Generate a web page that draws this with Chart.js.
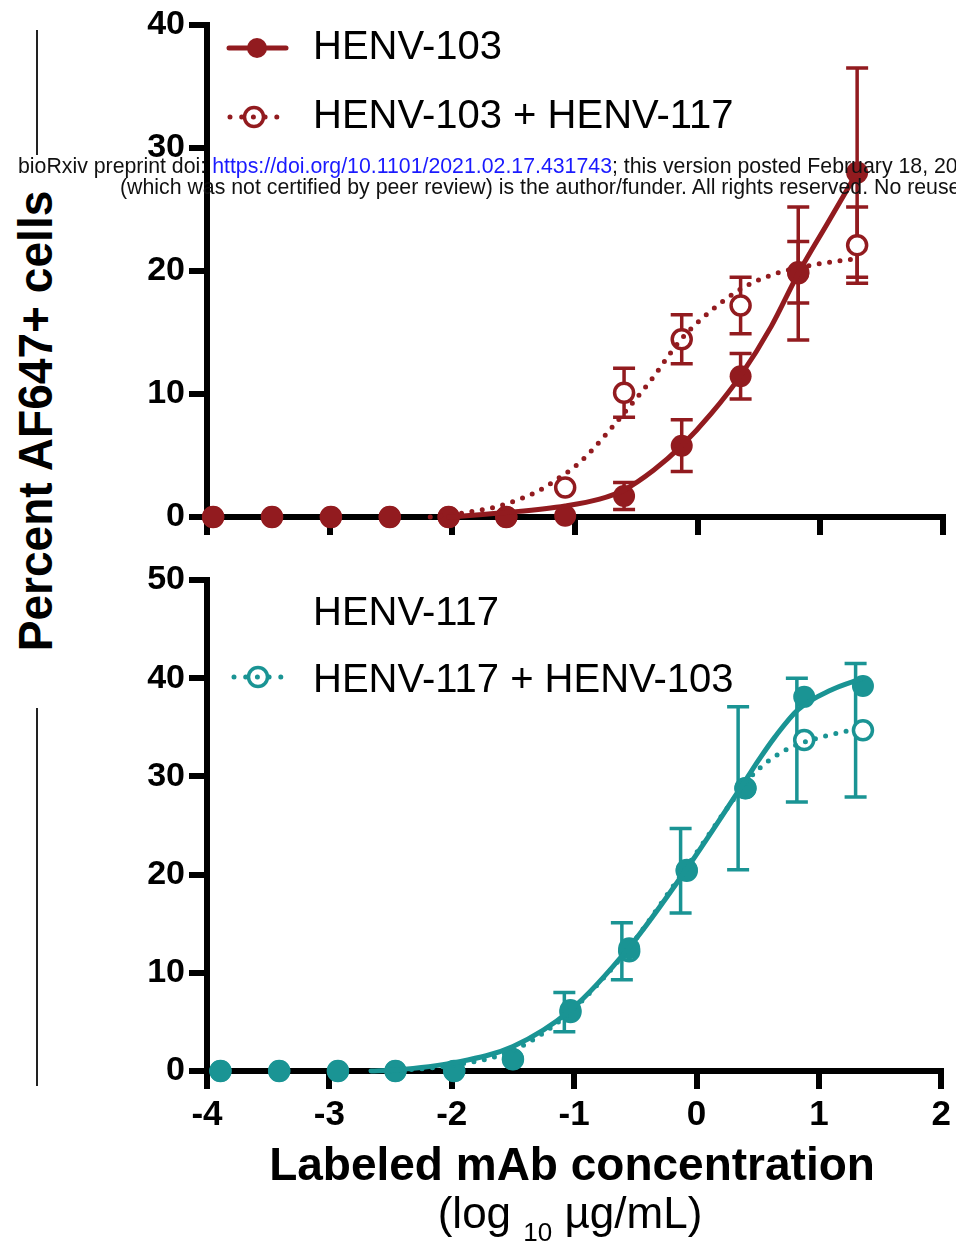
<!DOCTYPE html>
<html>
<head>
<meta charset="utf-8">
<script src="https://cdn.jsdelivr.net/npm/chart.js"></script>
<style>
  html, body { margin: 0; padding: 0; background: #fff; }
  body { width: 956px; height: 1241px; position: relative; overflow: hidden; font-family: "Liberation Sans", Arial, sans-serif; }
  .box { position: absolute; left: 0; width: 956px; }
  #topBox { top: 0; height: 560px; }
  #botBox { top: 545px; height: 590px; }
  .vline { position: absolute; left: 36px; width: 2px; background: #222; }
  #ytitle { position: absolute; left: 36px; top: 421px; white-space: nowrap; font-weight: bold; font-size: 48px; line-height: 48px;
            transform: translate(-50%, -50%) rotate(-90deg) scaleX(0.96); }
  #xtitle { position: absolute; left: 0; width: 1144px; top: 1141px; text-align: center; font-weight: bold; font-size: 46px; line-height: 46px; white-space: nowrap; }
  #xunit { position: absolute; left: 0; width: 1140px; top: 1191px; text-align: center; font-size: 44px; line-height: 44px; white-space: nowrap; }
  #xunit sub { font-size: 26px; vertical-align: baseline; position: relative; top: 13px; }
  .mark { position: absolute; white-space: nowrap; font-size: 21.3px; line-height: 21px; color: #111; z-index: 5; }
  .mark span { color: #1a1aff; }
</style>
</head>
<body>
<div class="vline" style="top:30px;height:125px"></div>
<div class="vline" style="top:708px;height:378px"></div>
<div id="ytitle">Percent AF647+ cells</div>
<div class="box" id="topBox"><canvas id="chartTop" width="956" height="560"></canvas></div>
<div class="box" id="botBox"><canvas id="chartBot" width="956" height="590"></canvas></div>
<div id="xtitle">Labeled mAb concentration</div>
<div id="xunit">(log <sub>10</sub>&nbsp;µg/mL)</div>
<div class="mark" style="left:18px;top:156px">bioRxiv preprint doi: <span>https://doi.org/10.1101/2021.02.17.431743</span>; this version posted February 18, 2021. The copyright holder for this preprint</div>
<div class="mark" style="left:120px;top:177px">(which was not certified by peer review) is the author/funder. All rights reserved. No reuse allowed without permission.</div>

<script>
// axis ticks
const xTicks = [-4, -3, -2, -1, 0, 1, 2];
const topYTicks = [0, 10, 20, 30, 40];
const botYTicks = [0, 10, 20, 30, 40, 50];

// top panel: HENV-103 alone and with HENV-117
const doseTop = [-3.95, -3.47, -2.99, -2.51, -2.03, -1.56, -1.08, -0.60, -0.13, 0.35, 0.82, 1.30];
const henv103 = [0, 0, 0, 0, 0, 0, 0.1, 1.7, 5.8, 11.45, 19.8, 28.0];
const henv103Err = [0, 0, 0, 0, 0, 0, 0, 1.1, 2.1, 1.85, 5.4, 8.5];
const henv103p117 = [0, 0, 0, 0, 0, 0, 2.4, 10.1, 14.45, 17.2, 19.9, 22.1];
const henv103p117Err = [0, 0, 0, 0, 0, 0, 0, 2.0, 2.0, 2.3, 2.5, 3.1];

// fitted curves
const fit103X = [-2.03, -1.52, -1.08, -0.80, -0.60, -0.36, -0.13, 0.11, 0.35, 0.60, 0.82, 1.06, 1.30];
const fit103Y = [0, 0.4, 0.9, 1.45, 2.2, 3.8, 5.8, 8.4, 11.5, 15.5, 19.8, 23.9, 28.0];
const fit103p117X = [-2.18, -1.90, -1.64, -1.47, -1.30, -1.15, -1.00, -0.86, -0.74, -0.57, -0.39, -0.13, 0.10, 0.38, 0.64, 1.00, 1.30];
const fit103p117Y = [0, 0.35, 0.84, 1.38, 2.1, 3.05, 4.1, 5.45, 6.8, 8.8, 11.0, 14.5, 16.7, 18.7, 19.8, 20.6, 21.0];

// bottom panel: HENV-117 alone and with HENV-103
const doseBot = [-3.89, -3.41, -2.93, -2.46, -1.98, -1.50, -1.03, -0.55, -0.08, 0.40, 0.88, 1.36];
const henv117 = [0, 0, 0, 0, 0, 1.2, 6.2, 12.5, 20.5, 28.8, 38.1, 39.2];
const henv117p103 = [0, 0, 0, 0, 0, 1.2, 6.0, 12.2, 20.4, 28.8, 33.7, 34.7];
const henv117p103Err = [0, 0, 0, 0, 0, 0, 2.0, 2.9, 4.3, 8.3, 6.3, 6.8];
const henv117p103ErrDose = [-3.95, -3.47, -2.99, -2.51, -2.03, -1.56, -1.08, -0.61, -0.13, 0.34, 0.82, 1.30];

const fit117X = [-2.66, -2.46, -1.98, -1.50, -1.03, -0.55, -0.08, 0.40, 0.51, 0.64, 0.83, 1.10, 1.36];
const fit117Y = [0, 0.1, 0.85, 2.5, 6.2, 12.6, 20.6, 29.6, 31.7, 34.0, 36.8, 38.8, 40.0];
const fit117p103X = [-2.50, -1.98, -1.50, -1.08, -0.60, -0.13, 0.34, 0.47, 0.70, 0.86, 1.05, 1.30];
const fit117p103Y = [0, 0.6, 2.1, 5.5, 11.8, 19.9, 28.3, 30.3, 32.5, 33.4, 34.1, 34.8];

const RED = "#921b1f";
const TEAL = "#1a9494";
const FONT = '"Liberation Sans", Arial, sans-serif';

const pts = (xs, ys) => xs.map((x, i) => ({ x: x, y: ys[i] }));

// error bars drawn under the markers
const errorBars = {
  id: "errorBars",
  beforeDatasetsDraw(chart) {
    const ctx = chart.ctx;
    const xs = chart.scales.x, ys = chart.scales.y;
    chart.data.datasets.forEach(ds => {
      if (!ds.errors) return;
      ctx.save();
      ctx.strokeStyle = ds.borderColor;
      ctx.lineWidth = 3.5;
      ds.data.forEach((p, i) => {
        const e = ds.errors[i];
        if (!e) return;
        const px = xs.getPixelForValue(ds.errX ? ds.errX[i] : p.x);
        const top = ys.getPixelForValue(p.y + e);
        const bot = ys.getPixelForValue(p.y - e);
        ctx.beginPath();
        ctx.moveTo(px, top); ctx.lineTo(px, bot);
        ctx.moveTo(px - 11, top); ctx.lineTo(px + 11, top);
        ctx.moveTo(px - 11, bot); ctx.lineTo(px + 11, bot);
        ctx.stroke();
      });
      ctx.restore();
    });
  }
};

// legend drawn inside the plot, like the original
const legendKey = {
  id: "legendKey",
  afterDraw(chart, args, opts) {
    const ctx = chart.ctx;
    ctx.save();
    opts.items.forEach(it => {
      if (it.symbol === "solid") {
        ctx.strokeStyle = it.color; ctx.fillStyle = it.color;
        ctx.lineWidth = 5; ctx.lineCap = "round";
        ctx.beginPath(); ctx.moveTo(it.x0, it.y); ctx.lineTo(it.x1, it.y); ctx.stroke();
        ctx.beginPath(); ctx.arc(it.cx, it.y, 10, 0, Math.PI * 2); ctx.fill();
      } else if (it.symbol === "dotted") {
        ctx.strokeStyle = it.color;
        ctx.beginPath(); ctx.arc(it.cx, it.y, 9.5, 0, Math.PI * 2);
        ctx.fillStyle = "#fff"; ctx.fill();
        ctx.lineWidth = 3.5; ctx.stroke();
        ctx.lineWidth = 5; ctx.lineCap = "round"; ctx.setLineDash([0, 11.7]);
        ctx.beginPath(); ctx.moveTo(it.x0, it.y); ctx.lineTo(it.x1 + 1, it.y); ctx.stroke();
        ctx.setLineDash([]);
      }
      ctx.fillStyle = "#000";
      ctx.font = "40px " + FONT;
      ctx.textBaseline = "middle";
      ctx.fillText(it.label, 313, it.ty);
    });
    ctx.restore();
  }
};

function axisOpts(ticks, opts) {
  return Object.assign({
    type: "linear",
    afterBuildTicks: s => { s.ticks = ticks.map(v => ({ value: v })); },
    grid: { drawOnChartArea: false, drawTicks: true, tickLength: 18, lineWidth: 6, color: "#000" },
    border: { display: true, width: 6, color: "#000" }
  }, opts);
}

function makeChart(id, cfg) {
  return new Chart(document.getElementById(id), {
    type: "scatter",
    data: { datasets: cfg.datasets },
    options: {
      responsive: false,
      animation: false,
      layout: { padding: { left: 0, right: 12, top: cfg.padTop, bottom: 0 } },
      scales: {
        x: axisOpts(xTicks, {
          min: -4, max: 2,
          ticks: { display: cfg.xLabels, color: "#000", padding: 5, font: { family: FONT, size: 35, weight: "bold" } },
          afterFit: s => { s.height = cfg.xHeight; }
        }),
        y: axisOpts(cfg.yTicks, {
          min: 0, max: cfg.yMax,
          ticks: { color: "#000", padding: 4, font: { family: FONT, size: 34, weight: "bold" } },
          afterFit: s => { s.width = 207; }
        })
      },
      plugins: {
        legend: { display: false },
        tooltip: { enabled: false },
        legendKey: { items: cfg.legend }
      }
    },
    plugins: [errorBars, legendKey]
  });
}

function markers(label, xs, ys, color, open, order, errs, errX) {
  return {
    label: label,
    data: pts(xs, ys),
    showLine: false,
    pointRadius: open ? 9.5 : 11,
    pointHoverRadius: open ? 9.5 : 11,
    pointBackgroundColor: open ? "#fff" : color,
    pointBorderColor: color,
    pointBorderWidth: open ? 3.5 : 0,
    borderColor: color,
    errors: errs,
    errX: errX,
    clip: false,
    order: order
  };
}

function curve(label, xs, ys, color, dotted, order) {
  return {
    type: "line",
    label: label,
    data: pts(xs, ys),
    borderColor: color,
    borderWidth: 5,
    borderDash: dotted ? [0, 10.5] : [],
    borderCapStyle: "round",
    borderJoinStyle: "round",
    cubicInterpolationMode: "monotone",
    pointRadius: 0,
    fill: false,
    clip: false,
    order: order
  };
}

makeChart("chartTop", {
  padTop: 25, xHeight: 43, xLabels: false, yTicks: topYTicks, yMax: 40,
  datasets: [
    markers("HENV-103 + HENV-117", doseTop, henv103p117, RED, true, 3, henv103p117Err),
    markers("HENV-103", doseTop, henv103, RED, false, 2, henv103Err),
    curve("HENV-103 + HENV-117 fit", fit103p117X, fit103p117Y, RED, true, 1),
    curve("HENV-103 fit", fit103X, fit103Y, RED, false, 0)
  ],
  legend: [
    { label: "HENV-103", symbol: "solid", color: RED, x0: 229, x1: 286, cx: 257, y: 48, ty: 48 },
    { label: "HENV-103 + HENV-117", symbol: "dotted", color: RED, x0: 230, x1: 277, cx: 254, y: 117, ty: 117 }
  ]
});

makeChart("chartBot", {
  padTop: 35, xHeight: 64, xLabels: true, yTicks: botYTicks, yMax: 50,
  datasets: [
    markers("HENV-117 + HENV-103", doseBot, henv117p103, TEAL, true, 3, henv117p103Err, henv117p103ErrDose),
    markers("HENV-117", doseBot, henv117, TEAL, false, 2),
    curve("HENV-117 + HENV-103 fit", fit117p103X, fit117p103Y, TEAL, true, 1),
    curve("HENV-117 fit", fit117X, fit117Y, TEAL, false, 0)
  ],
  legend: [
    { label: "HENV-117", symbol: "none", color: TEAL, y: 69, ty: 69 },
    { label: "HENV-117 + HENV-103", symbol: "dotted", color: TEAL, x0: 234, x1: 281, cx: 258, y: 132, ty: 136 }
  ]
});
</script>
</body>
</html>
